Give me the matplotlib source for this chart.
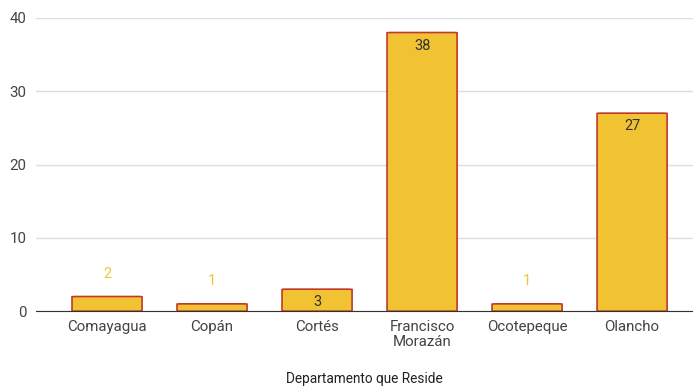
import matplotlib.pyplot as plt
from matplotlib.patches import FancyBboxPatch

departamentos = ['Comayagua', 'Copán', 'Cortés', 'Francisco\nMorazán', 'Ocotepeque', 'Olancho']
valores = [2, 1, 3, 38, 1, 27]

plt.rcParams['font.family'] = ['Roboto', 'DejaVu Sans']

fig = plt.figure(figsize=(6.93, 3.88), dpi=100)
ax = fig.add_axes([0.052, 0.198, 0.948, 0.756])

bar_color = '#f1c232'
edge_color = '#c0392b'
width = 0.667
x = list(range(len(departamentos)))

for xi, v in zip(x, valores):
    patch = FancyBboxPatch((xi - width / 2, 0), width, v,
                           boxstyle='round,pad=0,rounding_size=0.04',
                           mutation_aspect=1.05,
                           facecolor=bar_color, edgecolor=edge_color,
                           linewidth=1.2, zorder=3)
    ax.add_patch(patch)
    if v >= 3:
        ax.annotate(str(v), (xi, v), xytext=(0, -9.5), textcoords='offset points',
                    ha='center', va='center', fontsize=10.5, color='#333333', zorder=4)
    else:
        ax.annotate(str(v), (xi, v), xytext=(0, 16.5), textcoords='offset points',
                    ha='center', va='center', fontsize=10.5, color='#f1c232', zorder=4)

ax.set_xlim(-0.676, 5.58)
ax.set_ylim(0, 40)
ax.set_yticks([0, 10, 20, 30, 40])
ax.set_xticks(x)
ax.set_xticklabels(departamentos, linespacing=1.1)
ax.tick_params(axis='both', length=0, labelsize=10.8, labelcolor='#444444')
ax.tick_params(axis='x', pad=6.5)
ax.tick_params(axis='y', pad=7)
ax.grid(axis='y', color='#dddddd', linewidth=1, zorder=0)
for s in ['top', 'right', 'left']:
    ax.spines[s].set_visible(False)
ax.spines['bottom'].set_color('#333333')
ax.spines['bottom'].set_zorder(5)
ax.set_xlabel('Departamento que Reside', fontsize=9.8, color='#222222', labelpad=16)

plt.savefig('out.png', dpi=100)
